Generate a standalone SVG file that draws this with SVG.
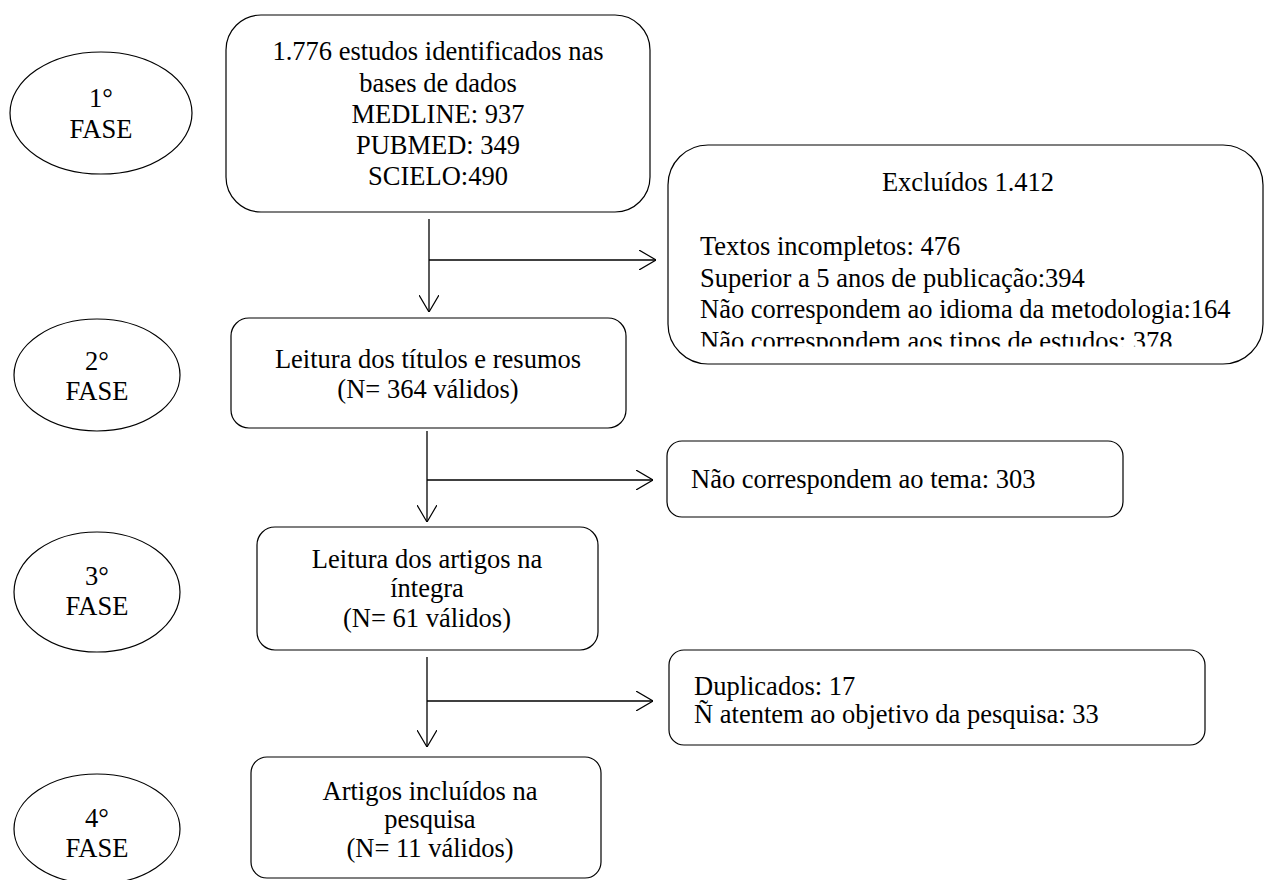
<svg xmlns="http://www.w3.org/2000/svg" width="1266" height="880" viewBox="0 0 1266 880">
<style>
  text { font-family: "Liberation Serif", "Times New Roman", serif; font-size: 26.5px; fill: #000; }
  .c { text-anchor: middle; }
  .box { fill: #fff; stroke: #000; stroke-width: 1.2; }
  .ell { fill: #fff; stroke: #000; stroke-width: 1.2; }
  .ln { fill: none; stroke: #000; stroke-width: 1.3; }
</style>
<defs>
  <marker id="arr" viewBox="0 0 17 20" refX="17" refY="10" markerWidth="17" markerHeight="20" markerUnits="userSpaceOnUse" orient="auto">
    <path d="M0,0 L17,10 L0,20" fill="none" stroke="#000" stroke-width="1.2"/>
  </marker>
  <clipPath id="exclClip">
    <rect x="668" y="145" width="598" height="201.5"/>
  </clipPath>
</defs>
<rect width="1266" height="880" fill="#fff"/>

<g id="phase1">
  <ellipse class="ell" cx="101" cy="113" rx="91" ry="61"/>
  <text class="c" x="101" y="107">1°</text>
  <text class="c" x="101" y="138">FASE</text>
</g>
<g id="phase2">
  <ellipse class="ell" cx="97" cy="375" rx="83" ry="56"/>
  <text class="c" x="97" y="370">2°</text>
  <text class="c" x="97" y="400">FASE</text>
</g>
<g id="phase3">
  <ellipse class="ell" cx="97" cy="592" rx="83" ry="60"/>
  <text class="c" x="97" y="585">3°</text>
  <text class="c" x="97" y="615">FASE</text>
</g>
<g id="phase4">
  <ellipse class="ell" cx="97" cy="829" rx="83" ry="55"/>
  <text class="c" x="97" y="827">4°</text>
  <text class="c" x="97" y="857">FASE</text>
</g>

<g id="identified">
  <rect class="box" x="226" y="15" width="424" height="197" rx="35"/>
  <text class="c" x="438" y="60">1.776 estudos identificados nas</text>
  <text class="c" x="438" y="92">bases de dados</text>
  <text class="c" x="438" y="123">MEDLINE: 937</text>
  <text class="c" x="438" y="154">PUBMED: 349</text>
  <text class="c" x="438" y="185">SCIELO:490</text>
</g>

<g id="excluded">
  <rect class="box" x="668" y="145" width="595" height="219" rx="40"/>
  <text class="c" x="968" y="191">Excluídos 1.412</text>
  <g clip-path="url(#exclClip)">
    <text x="700" y="255">Textos incompletos: 476</text>
    <text x="700" y="286.5">Superior a 5 anos de publicação:394</text>
    <text x="700" y="318">Não correspondem ao idioma da metodologia:164</text>
    <text x="700" y="349.5">Não correspondem aos tipos de estudos: 378</text>
  </g>
</g>

<g id="screening">
  <rect class="box" x="231" y="318" width="395" height="110" rx="18"/>
  <text class="c" x="428" y="368">Leitura dos títulos e resumos</text>
  <text class="c" x="428" y="398">(N= 364 válidos)</text>
</g>

<g id="offtopic">
  <rect class="box" x="667" y="441" width="456" height="76" rx="15"/>
  <text x="691" y="488">Não correspondem ao tema: 303</text>
</g>

<g id="fulltext">
  <rect class="box" x="257" y="527" width="341" height="123" rx="18"/>
  <text class="c" x="427" y="568">Leitura dos artigos na</text>
  <text class="c" x="427" y="597">íntegra</text>
  <text class="c" x="427" y="627">(N= 61 válidos)</text>
</g>

<g id="duplicates">
  <rect class="box" x="669" y="650" width="536" height="95" rx="15"/>
  <text x="694" y="695">Duplicados: 17</text>
  <text x="694" y="723">Ñ atentem ao objetivo da pesquisa: 33</text>
</g>

<g id="included">
  <rect class="box" x="251" y="757" width="350" height="121" rx="16"/>
  <text class="c" x="430" y="800">Artigos incluídos na</text>
  <text class="c" x="430" y="828">pesquisa</text>
  <text class="c" x="430" y="857">(N= 11 válidos)</text>
</g>

<g id="connectors">
  <line class="ln" x1="429" y1="219" x2="429" y2="312" marker-end="url(#arr)"/>
  <line class="ln" x1="429" y1="260" x2="656" y2="260" marker-end="url(#arr)"/>
  <line class="ln" x1="427" y1="431" x2="427" y2="522" marker-end="url(#arr)"/>
  <line class="ln" x1="427" y1="480" x2="653" y2="480" marker-end="url(#arr)"/>
  <line class="ln" x1="427" y1="657" x2="427" y2="747" marker-end="url(#arr)"/>
  <line class="ln" x1="427" y1="701" x2="653" y2="701" marker-end="url(#arr)"/>
</g>
</svg>
